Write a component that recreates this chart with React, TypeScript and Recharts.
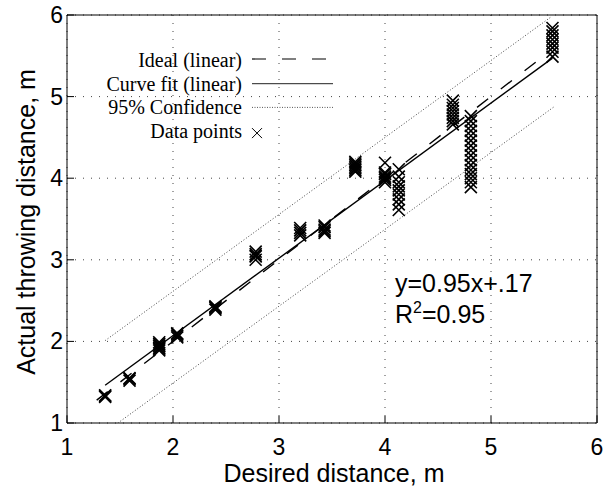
import React from 'react';
import {
  ComposedChart,
  Line,
  Scatter,
  XAxis,
  YAxis,
  CartesianGrid,
  ReferenceArea,
  Legend,
  Label,
} from 'recharts';

// ---- data ----
const axisTicks = [1, 2, 3, 4, 5, 6];

// desired distance of each throw group (m)
const desiredX = [1.36, 1.59, 1.87, 2.04, 2.4, 2.78, 3.2, 3.43, 3.72, 4.0, 4.13, 4.64, 4.81, 5.58];

// actual throwing distances measured for each group (m)
const actualY: number[][] = [
  [1.32, 1.34, 1.33],
  [1.52, 1.55, 1.54],
  [1.89, 1.92, 1.95, 1.97, 1.99, 1.94, 1.91],
  [2.05, 2.07, 2.09, 2.1],
  [2.39, 2.41, 2.43, 2.42],
  [3.0, 3.04, 3.07, 3.1, 3.05],
  [3.3, 3.33, 3.36, 3.39],
  [3.33, 3.35, 3.37, 3.4, 3.42],
  [4.08, 4.1, 4.12, 4.14, 4.16, 4.18, 4.2],
  [3.95, 3.98, 4.0, 4.02, 4.05, 4.07, 4.19],
  [3.61, 3.68, 3.74, 3.8, 3.85, 3.9, 3.95, 4.02, 4.11],
  [4.66, 4.7, 4.74, 4.78, 4.82, 4.86, 4.9, 4.95],
  [3.89, 3.95, 4.0, 4.05, 4.1, 4.16, 4.22, 4.28, 4.34, 4.4, 4.46, 4.52, 4.58, 4.64, 4.7, 4.76],
  [5.49, 5.55, 5.6, 5.65, 5.7, 5.75, 5.8, 5.84],
];

const idealLine = [
  { x: 1.28, y: 1.28 },
  { x: 5.5, y: 5.5 },
];
const fitLine = [
  { x: 1.36, y: 1.462 },
  { x: 5.58, y: 5.471 },
];
const upperConf = [
  { x: 1.36, y: 2.01 },
  { x: 5.57, y: 5.98 },
];
const lowerConf = [
  { x: 1.48, y: 1.0 },
  { x: 5.6, y: 4.88 },
];

const points = desiredX.flatMap((x, i) => actualY[i].map((y) => ({ x, y })));

const SANS = '"Liberation Sans", Arial, Helvetica, sans-serif';
const SERIF = '"Liberation Serif", "Times New Roman", Times, serif';

const Cross = (props: any) => {
  const { cx, cy } = props;
  if (cx == null || cy == null) return null;
  const h = 6;
  return (
    <path
      d={`M${cx - h},${cy - h}L${cx + h},${cy + h}M${cx - h},${cy + h}L${cx + h},${cy - h}`}
      stroke="#000"
      strokeWidth={1.6}
      fill="none"
    />
  );
};

const XTick = (props: any) => {
  const { x, y, payload } = props;
  return (
    <g>
      <line x1={x} y1={y} x2={x} y2={y - 7} stroke="#000" strokeWidth={1} />
      <text x={x} y={y + 32} textAnchor="middle" fontSize={23} fontFamily={SANS} fill="#000">
        {payload.value}
      </text>
    </g>
  );
};

const YTick = (props: any) => {
  const { x, y, payload } = props;
  return (
    <g>
      <line x1={x} y1={y} x2={x + 7} y2={y} stroke="#000" strokeWidth={1} />
      <text x={x - 4} y={y + 8} textAnchor="end" fontSize={23} fontFamily={SANS} fill="#000">
        {payload.value}
      </text>
    </g>
  );
};

const XTitle = (props: any) => {
  const vb = props.viewBox || { x: 67, y: 423, width: 530, height: 65 };
  return (
    <text x={vb.x + vb.width / 2 + 2} y={vb.y + 59} textAnchor="middle" fontSize={25} fontFamily={SANS} fill="#000">
      Desired distance, m
    </text>
  );
};

const YTitle = (props: any) => {
  const vb = props.viewBox || { x: 0, y: 15, width: 67, height: 408 };
  const cx = vb.x + 35;
  const cy = vb.y + vb.height / 2 + 3;
  return (
    <text
      x={cx}
      y={cy}
      transform={`rotate(-90, ${cx}, ${cy})`}
      textAnchor="middle"
      fontSize={25}
      fontFamily={SANS}
      fill="#000"
    >
      Actual throwing distance, m
    </text>
  );
};

const legendRows = [
  { label: 'Ideal (linear)', kind: 'dash' },
  { label: 'Curve fit (linear)', kind: 'solid' },
  { label: '95% Confidence', kind: 'dot' },
  { label: 'Data points', kind: 'cross' },
];

const LegendContent = () => (
  <svg width={360} height={150} style={{ display: 'block' }}>
    {legendRows.map((r, i) => {
      const base = 67 + i * 23.7;
      const ly = base - 7;
      let sample: React.ReactNode = null;
      if (r.kind === 'dash')
        sample = <line x1={252} y1={ly - 1} x2={330} y2={ly - 1} stroke="#000" strokeWidth={1.2} strokeDasharray="14 16" />;
      else if (r.kind === 'solid')
        sample = <line x1={252} y1={ly} x2={333} y2={ly} stroke="#222" strokeWidth={1} />;
      else if (r.kind === 'dot')
        sample = <line x1={252} y1={ly} x2={333} y2={ly} stroke="#555" strokeWidth={1} strokeDasharray="1 1.5" />;
      else
        sample = (
          <path
            d={`M252,${base - 10}L262,${base}M252,${base}L262,${base - 10}`}
            stroke="#000"
            strokeWidth={1}
            fill="none"
          />
        );
      return (
        <g key={r.label}>
          <text x={242} y={base} textAnchor="end" fontSize={20} fontFamily={SERIF} fill="#000">
            {r.label}
          </text>
          {sample}
        </g>
      );
    })}
  </svg>
);

export default function App() {
  return (
    <div style={{ position: 'absolute', left: 0, top: 0, width: 610, height: 488, background: '#fff' }}>
      <ComposedChart
        width={610}
        height={488}
        margin={{ top: 15, right: 13, left: 0, bottom: 0 }}
        style={{ fontFamily: SANS }}
      >
        <CartesianGrid stroke="#444" strokeDasharray="1 7" />
        <XAxis
          type="number"
          dataKey="x"
          domain={[1, 6]}
          ticks={axisTicks}
          allowDataOverflow
          axisLine={false}
          tickLine={false}
          tickSize={0}
          tickMargin={0}
          tick={<XTick />}
          height={65}
          interval={0}
        >
          <Label content={<XTitle />} />
        </XAxis>
        <YAxis
          type="number"
          dataKey="y"
          domain={[1, 6]}
          ticks={axisTicks}
          allowDataOverflow
          axisLine={false}
          tickLine={false}
          tickSize={0}
          tickMargin={0}
          tick={<YTick />}
          width={67}
          interval={0}
        >
          <Label content={<YTitle />} />
        </YAxis>
        <ReferenceArea x1={1} x2={6} y1={1} y2={6} fill="none" fillOpacity={0} stroke="#000" strokeWidth={1} />
        <Line
          data={upperConf}
          dataKey="y"
          type="linear"
          stroke="#444"
          strokeWidth={1}
          strokeDasharray="1 2"
          dot={false}
          isAnimationActive={false}
          legendType="none"
        />
        <Line
          data={lowerConf}
          dataKey="y"
          type="linear"
          stroke="#444"
          strokeWidth={1}
          strokeDasharray="1 2"
          dot={false}
          isAnimationActive={false}
          legendType="none"
        />
        <Line
          data={idealLine}
          dataKey="y"
          type="linear"
          stroke="#000"
          strokeWidth={1.4}
          strokeDasharray="14 16"
          dot={false}
          isAnimationActive={false}
          legendType="none"
        />
        <Line
          data={fitLine}
          dataKey="y"
          type="linear"
          stroke="#000"
          strokeWidth={1.4}
          dot={false}
          isAnimationActive={false}
          legendType="none"
        />
        <Scatter data={points} shape={<Cross />} isAnimationActive={false} legendType="none" />
        <Legend
          layout="horizontal"
          verticalAlign="middle"
          align="center"
          content={<LegendContent />}
          wrapperStyle={{ left: 0, top: 0, width: 360, height: 150 }}
        />
      </ComposedChart>
      <svg
        width={610}
        height={488}
        style={{ position: 'absolute', left: 0, top: 0, pointerEvents: 'none' }}
      >
        <text x={395} y={292} fontSize={25} fontFamily={SANS} fill="#000">
          y=0.95x+.17
        </text>
        <text x={395} y={323} fontSize={25} fontFamily={SANS} fill="#000">
          R
          <tspan fontSize={16} dy={-10}>2</tspan>
          <tspan dy={10}>=0.95</tspan>
        </text>
      </svg>
    </div>
  );
}
